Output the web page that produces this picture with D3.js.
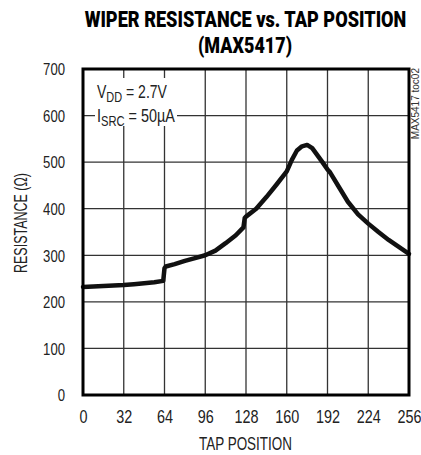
<!DOCTYPE html>
<html><head><meta charset="utf-8">
<script src="https://cdn.jsdelivr.net/npm/d3@7"></script>
<style>body{margin:0;background:#fff}</style>
</head><body>
<svg id="c" width="421" height="455"></svg>
<script>
const xTicks = [0, 32, 64, 96, 128, 160, 192, 224, 256];
const yTicks = [0, 100, 200, 300, 400, 500, 600, 700];
const tapPosition = [0, 8, 16, 24, 32, 40, 48, 56, 63, 64, 65, 72, 80, 88, 96, 104, 112, 120, 126, 127, 128, 136, 144, 152, 160, 164, 168, 172, 176, 180, 184, 188, 192, 194, 200, 208, 216, 224, 232, 240, 248, 256];
const resistance = [232, 233, 234, 235, 236, 238, 240, 242, 245, 272, 276, 281, 288, 294, 300, 310, 326, 343, 360, 380, 383, 400, 425, 452, 480, 505, 525, 534, 537, 530, 515, 500, 484, 478, 451, 415, 388, 368, 350, 333, 318, 303];

const svg = d3.select("#c");
const L = 83, R = 409, T = 69, B = 395;
const x = d3.scaleLinear().domain([0, 256]).range([L, R]);
const y = d3.scaleLinear().domain([0, 700]).range([B, T]);
const font = "'Liberation Sans', Arial, sans-serif";

// place a text at (px,py) and squeeze it horizontally to a target width
function fit(text, px, py, target, rot) {
  const w = text.node().getComputedTextLength();
  const s = Math.min(1, target / w);
  text.attr("x", 0).attr("y", 0)
    .attr("transform", `translate(${px},${py})${rot ? ` rotate(${rot})` : ""} scale(${s},1)`);
  return text;
}

// grid
svg.append("g").selectAll("line").data(xTicks).join("line")
  .attr("x1", d => x(d)).attr("x2", d => x(d)).attr("y1", T).attr("y2", B)
  .attr("stroke", "#333").attr("stroke-width", 1.3);
svg.append("g").selectAll("line").data(yTicks).join("line")
  .attr("y1", d => y(d)).attr("y2", d => y(d)).attr("x1", L).attr("x2", R)
  .attr("stroke", "#333").attr("stroke-width", 1.3);

// axes tick labels (condensed via horizontal scale)
const xa = svg.append("g").attr("transform", `translate(0,${B})`)
  .call(d3.axisBottom(x).tickValues(xTicks).tickSize(0).tickPadding(0));
xa.select(".domain").remove();
xa.selectAll("text").attr("y", 28).attr("dy", 0).attr("font-size", 18)
  .attr("font-family", font).attr("fill", "#222").attr("transform", "scale(0.8,1)");
const ya = svg.append("g").attr("transform", `translate(${L},0)`)
  .call(d3.axisLeft(y).tickValues(yTicks).tickSize(0).tickPadding(0));
ya.select(".domain").remove();
ya.selectAll("text").attr("x", -18 / 0.82).attr("dy", "0.36em").attr("font-size", 16)
  .attr("font-family", font).attr("fill", "#222").attr("transform", "scale(0.82,1)");

// legend with white background
svg.append("rect").attr("x", 95).attr("y", 78).attr("width", 82).attr("height", 48).attr("fill", "#fff");
const t1 = svg.append("text").attr("font-size", 18).attr("font-family", font).attr("fill", "#222");
t1.append("tspan").text("V");
t1.append("tspan").attr("dy", 4).attr("font-size", 14).text("DD");
t1.append("tspan").attr("dy", -4).text(" = 2.7V");
fit(t1, 97, 98, 70);
const t2 = svg.append("text").attr("font-size", 18).attr("font-family", font).attr("fill", "#222");
t2.append("tspan").text("I");
t2.append("tspan").attr("dy", 4).attr("font-size", 14).text("SRC");
t2.append("tspan").attr("dy", -4).text(" = 50µA");
fit(t2, 97, 122, 78);

// curve
const pts = tapPosition.map((t, i) => [t, resistance[i]]);
svg.append("path").datum(pts)
  .attr("d", d3.line().x(d => x(d[0])).y(d => y(d[1])).curve(d3.curveLinear))
  .attr("fill", "none").attr("stroke", "#111").attr("stroke-width", 4.5)
  .attr("stroke-linejoin", "round").attr("stroke-linecap", "round");

// frame
svg.append("rect").attr("x", L).attr("y", T).attr("width", R - L).attr("height", B - T)
  .attr("fill", "none").attr("stroke", "#000").attr("stroke-width", 3);

// titles
const tfont = "Roboto, 'Liberation Sans', sans-serif";
fit(svg.append("text").attr("text-anchor", "middle")
  .attr("font-size", 22).attr("font-weight", 900).attr("font-family", tfont)
  .text("WIPER RESISTANCE vs. TAP POSITION"), 245.5, 27, 322);
fit(svg.append("text").attr("text-anchor", "middle")
  .attr("font-size", 22).attr("font-weight", 900).attr("font-family", tfont)
  .text("(MAX5417)"), 245, 52.5, 94);
fit(svg.append("text").attr("text-anchor", "middle")
  .attr("font-size", 18).attr("font-family", font).attr("fill", "#222")
  .text("TAP POSITION"), 245.5, 450, 93);
fit(svg.append("text").attr("text-anchor", "middle")
  .attr("font-size", 18).attr("font-family", font).attr("fill", "#222")
  .text("RESISTANCE (Ω)"), 27, 223, 100, -90);
fit(svg.append("text").attr("text-anchor", "end")
  .attr("font-size", 10).attr("font-family", font).attr("fill", "#333")
  .text("MAX5417 toc02"), 419, 68, 75, -90);
</script>
</body></html>
